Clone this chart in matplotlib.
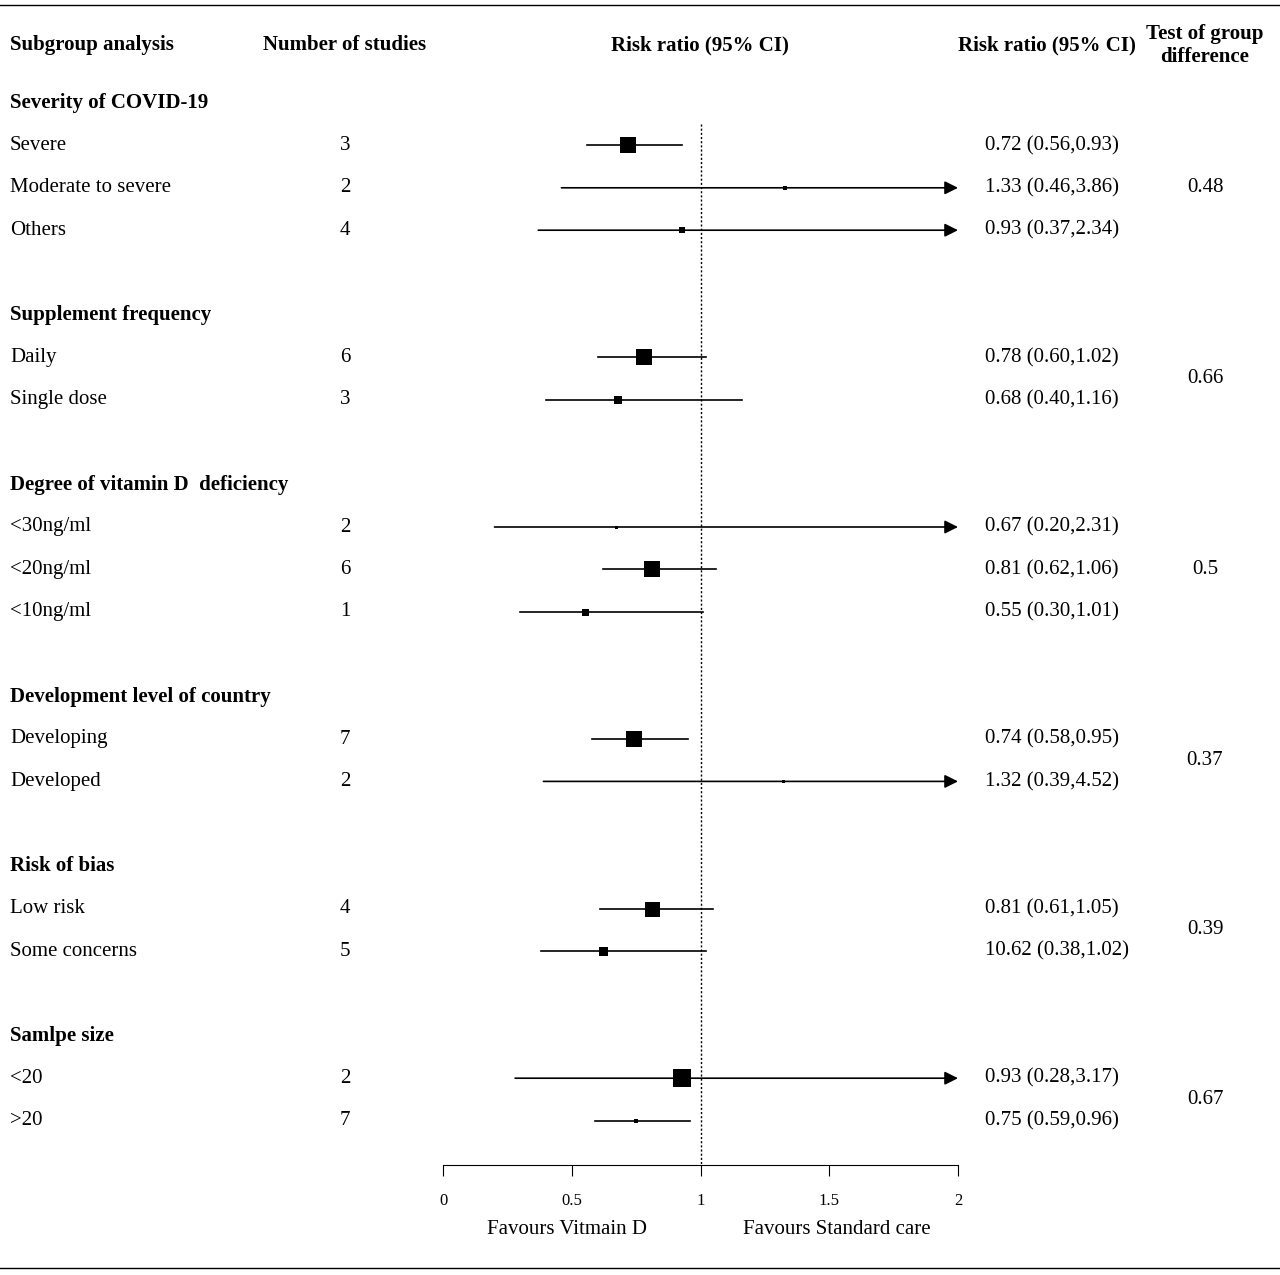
import matplotlib
matplotlib.use("Agg")
import matplotlib.pyplot as plt
import matplotlib.transforms as mtransforms

plt.rcParams['font.family'] = ['Liberation Serif', 'DejaVu Serif']

# rows: (label, n, rr, lo, hi, text, marker px) ; None for blank, str for section header
sections = ["Severity of COVID-19", "Supplement frequency", "Degree of vitamin D  deficiency",
            "Development level of country", "Risk of bias", "Samlpe size"]
labels = [["Severe", "Moderate to severe", "Others"],
          ["Daily", "Single dose"],
          ["<30ng/ml", "<20ng/ml", "<10ng/ml"],
          ["Developing", "Developed"],
          ["Low risk", "Some concerns"],
          ["<20", ">20"]]
n_studies = [[3, 2, 4], [6, 3], [2, 6, 1], [7, 2], [4, 5], [2, 7]]
rr = [[0.72, 1.33, 0.93], [0.78, 0.68], [0.67, 0.81, 0.55], [0.74, 1.32], [0.81, 0.62], [0.93, 0.75]]
lo = [[0.56, 0.46, 0.37], [0.60, 0.40], [0.20, 0.62, 0.30], [0.58, 0.39], [0.61, 0.38], [0.28, 0.59]]
hi = [[0.93, 3.86, 2.34], [1.02, 1.16], [2.31, 1.06, 1.01], [0.95, 4.52], [1.05, 1.02], [3.17, 0.96]]
rr_text = [["0.72 (0.56,0.93)", "1.33 (0.46,3.86)", "0.93 (0.37,2.34)"],
           ["0.78 (0.60,1.02)", "0.68 (0.40,1.16)"],
           ["0.67 (0.20,2.31)", "0.81 (0.62,1.06)", "0.55 (0.30,1.01)"],
           ["0.74 (0.58,0.95)", "1.32 (0.39,4.52)"],
           ["0.81 (0.61,1.05)", "10.62 (0.38,1.02)"],
           ["0.93 (0.28,3.17)", "0.75 (0.59,0.96)"]]
weights = [[16, 4, 6], [16, 8], [3, 16, 7], [16, 3], [15, 9], [18, 4]]
p_diff = ["0.48", "0.66", "0.5", "0.37", "0.39", "0.67"]

W, H = 1280, 1275
fig = plt.figure(figsize=(W / 100, H / 100), dpi=100)
top_px, bot_px, step = 103, 1165, 42.4
ytop = (80 - top_px) / step
ybot = (bot_px - top_px) / step
ax = fig.add_axes([443 / W, (H - bot_px) / H, 515 / W, (bot_px - 80) / H])
ax.set_xlim(0, 2)
ax.set_ylim(ybot, ytop)
for s in ["top", "right", "left"]:
    ax.spines[s].set_visible(False)
ax.set_yticks([])
ax.set_xticks([0, 0.5, 1, 1.5, 2])
ax.set_xticklabels(["0", "0.5", "1", "1.5", "2"])
ax.tick_params(axis="x", direction="out", length=8, labelsize=12, pad=12)

tr = mtransforms.blended_transform_factory(fig.transFigure, ax.transData)
fs = 15

def t(x, y, s, **kw):
    ax.text(x / W, y, s, transform=tr, fontsize=fs, va="center", clip_on=False, **kw)

# header
hy = (45 - top_px) / step
t(10, hy, "Subgroup analysis", weight="bold")
t(345, hy, "Number of studies", weight="bold", ha="center")
t(700, hy, "Risk ratio (95% CI)", weight="bold", ha="center")
t(1047, hy, "Risk ratio (95% CI)", weight="bold", ha="center")
t(1205, hy, "Test of group\ndifference", weight="bold", ha="center", linespacing=1.2)

row = 0
for g, sec in enumerate(sections):
    t(10, row, sec, weight="bold")
    first = row + 1
    for k, lab in enumerate(labels[g]):
        row += 1
        t(10, row, lab)
        t(345, row, str(n_studies[g][k]), ha="center")
        t(985, row, rr_text[g][k])
        if hi[g][k] > 2:
            ax.annotate("", xy=(2, row), xytext=(lo[g][k], row),
                        arrowprops=dict(arrowstyle="-|>", color="black", lw=1.2,
                                        mutation_scale=20, shrinkA=0, shrinkB=0))
        else:
            ax.plot([lo[g][k], hi[g][k]], [row, row], color="black", lw=1.2)
        ax.plot(rr[g][k], row, marker="s", color="black", ms=weights[g][k] * 0.72,
                mew=0, zorder=3)
    t(1205, (first + row) / 2, p_diff[g], ha="center")
    row += 2

ax.plot([1, 1], [0.5, ybot], color="black", lw=1, ls=(0, (1.5, 1.5)))

fy = (1230 - top_px) / step
t(567, fy, "Favours Vitmain D", ha="center")
t(837, fy, "Favours Standard care", ha="center")

fig.add_artist(plt.Line2D([0, 1], [1 - 5 / H, 1 - 5 / H], color="black", lw=1))
fig.add_artist(plt.Line2D([0, 1], [1 - 1268 / H, 1 - 1268 / H], color="black", lw=1))

fig.savefig("out.png", dpi=100)
